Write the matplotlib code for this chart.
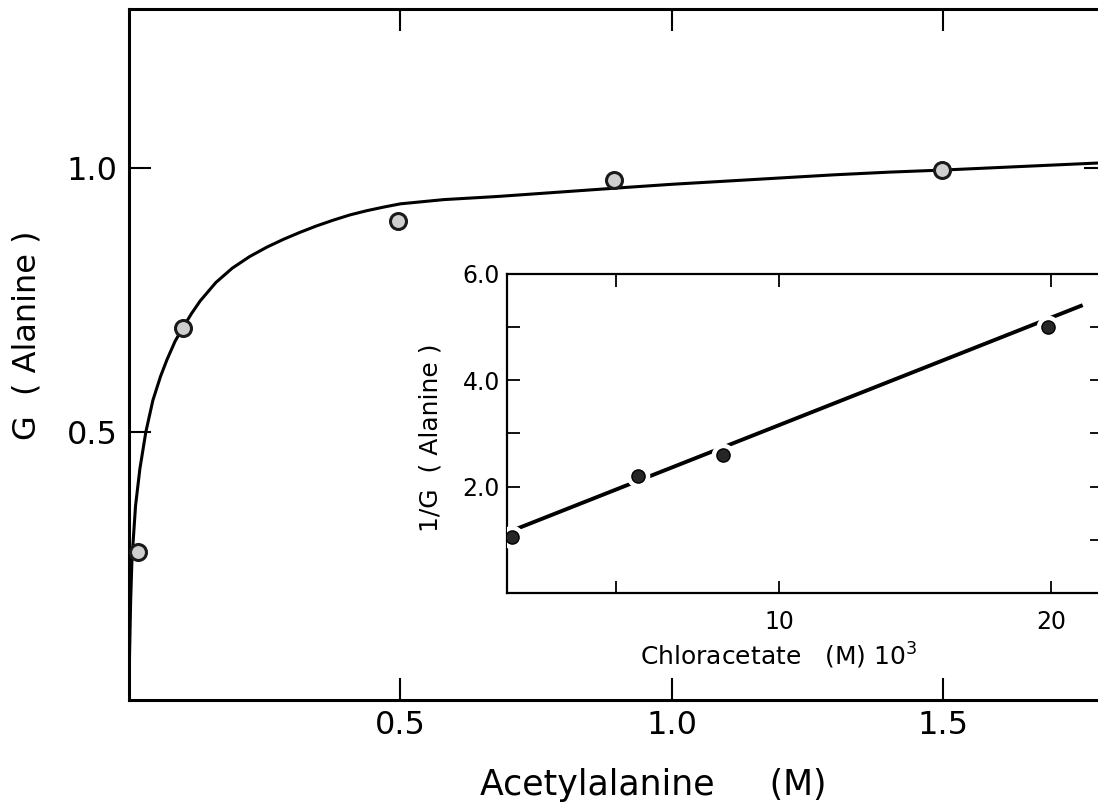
import matplotlib
matplotlib.use("Agg")
import matplotlib.pyplot as plt

# ---- main panel data ----
acet_x = [0.017, 0.099, 0.495, 0.894, 1.497]
acet_g = [0.273, 0.697, 0.900, 0.977, 0.996]

# hand-drawn smooth curve, traced
curve_x = [0.0, 0.001, 0.003, 0.0055, 0.012, 0.020, 0.031, 0.044, 0.058, 0.070,
           0.085, 0.099, 0.115, 0.131, 0.160, 0.190, 0.222, 0.254, 0.285, 0.315,
           0.345, 0.376, 0.407, 0.438, 0.470, 0.500, 0.580, 0.680, 0.790, 0.900,
           1.000, 1.100, 1.200, 1.300, 1.400, 1.500, 1.650, 1.800]
curve_g = [0.0, 0.080, 0.180, 0.260, 0.360, 0.430, 0.500, 0.560, 0.605, 0.637,
           0.672, 0.697, 0.724, 0.748, 0.783, 0.810, 0.832, 0.850, 0.865, 0.878,
           0.890, 0.901, 0.911, 0.919, 0.926, 0.932, 0.940, 0.946, 0.954, 0.962,
           0.969, 0.975, 0.981, 0.987, 0.992, 0.996, 1.003, 1.010]

# ---- inset data ----
chlor_x = [0.2, 4.8, 7.95, 19.9]
inv_g = [1.05, 2.20, 2.60, 5.00]
fit_x = [0.37, 21.1]
fit_y = [1.21, 5.40]

fig = plt.figure(figsize=(10.98, 8.02), dpi=100)
fig.patch.set_facecolor("white")

ax = fig.add_axes([0.1175, 0.1272, 0.8898, 0.8616])
ax.plot(curve_x, curve_g, color="black", lw=2.2, zorder=2)
ax.plot(acet_x, acet_g, "o", ms=11.5, mfc="#cfcfcf", mec="#1a1a1a", mew=2.2, zorder=3)

ax.set_xlim(0, 1.8)
ax.set_ylim(-0.0076, 1.301)
ax.set_xticks([0.5, 1.0, 1.5])
ax.set_xticklabels(["0.5", "1.0", "1.5"])
ax.set_yticks([0.5, 1.0])
ax.set_yticklabels(["0.5", "1.0"])
ax.tick_params(direction="in", length=16, width=1.5, top=True, right=True, labelsize=23)
ax.tick_params(axis="x", pad=7)
ax.tick_params(axis="y", pad=8)
for s in ax.spines.values():
    s.set_linewidth(2.2)

fig.text(653 / 1098, 1 - 785 / 802, "Acetylalanine     (M)", fontsize=25,
         ha="center", va="center")
fig.text(27 / 1098, 1 - 335 / 802, "G  ( Alanine )", fontsize=23, rotation=90,
         ha="center", va="center")

# ---- inset ----
ins = fig.add_axes([0.4617, 0.2606, 0.5419, 0.3978])
ins.plot(fit_x, fit_y, color="black", lw=2.8, zorder=2)
ins.plot(chlor_x, inv_g, "o", ms=17, mfc="white", mec="none", zorder=3)
ins.plot(chlor_x, inv_g, "o", ms=9.5, mfc="#262626", mec="black", mew=1, zorder=4)

ins.set_xlim(0, 21.875)
ins.set_ylim(0, 6)
ins.set_xticks([4, 10, 20])
ins.set_xticklabels(["", "10", "20"])
ins.set_yticks([1, 2, 3, 4, 5, 6])
ins.set_yticklabels(["", "2.0", "", "4.0", "", "6.0"])
ins.tick_params(direction="in", length=9, width=1.3, top=True, right=True, labelsize=17)
ins.tick_params(axis="x", pad=12)
ins.tick_params(axis="y", pad=5)
for s in ins.spines.values():
    s.set_linewidth(1.6)

fig.text(779 / 1098, 1 - 656 / 802, "Chloracetate   (M) 10$^3$", fontsize=18,
         ha="center", va="center")
fig.text(431 / 1098, 1 - 438 / 802, "1/G  ( Alanine )", fontsize=18, rotation=90,
         ha="center", va="center")

fig.savefig("out.png", dpi=100)
